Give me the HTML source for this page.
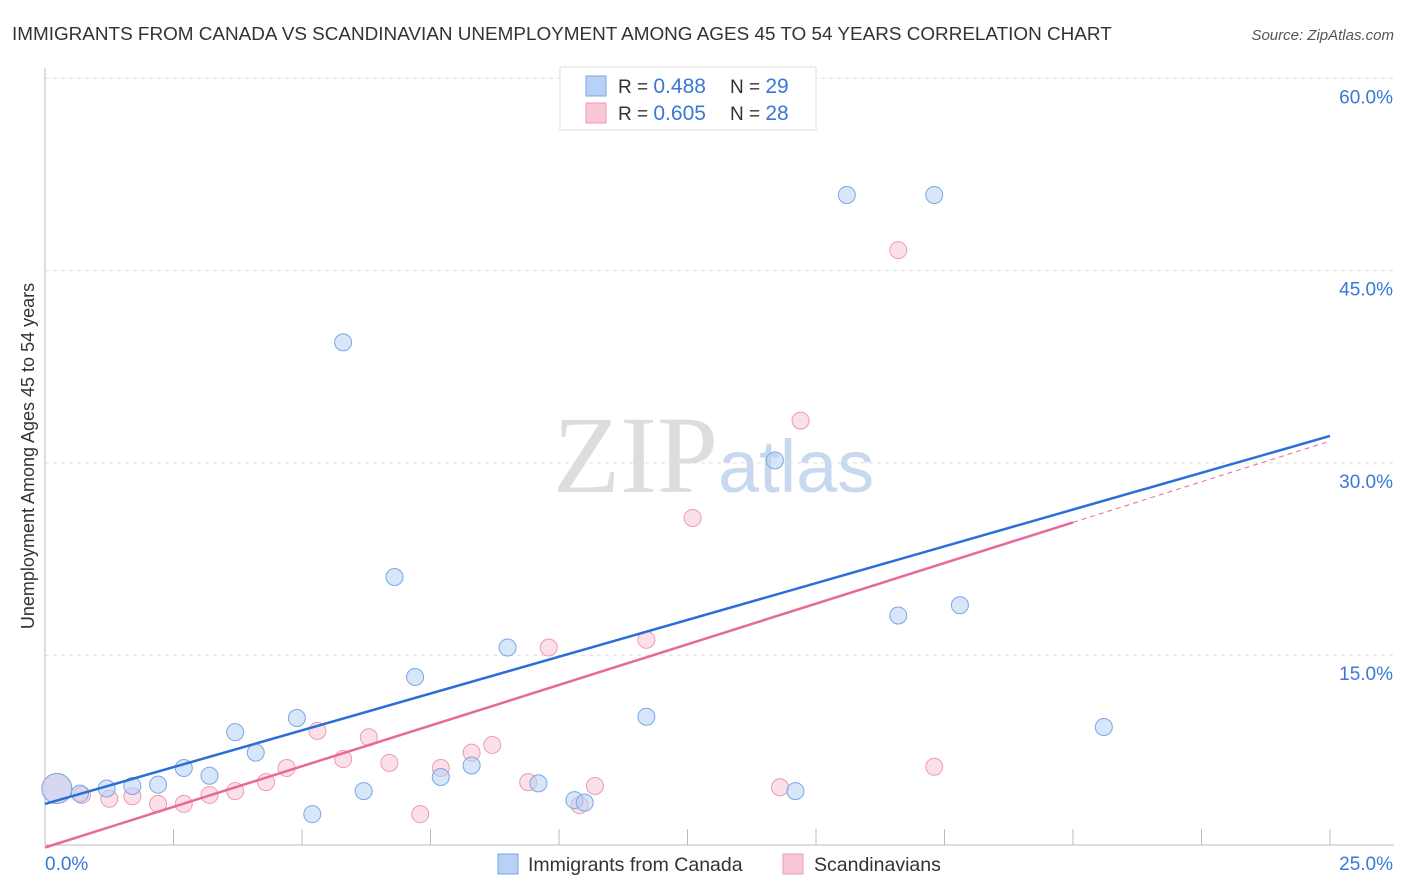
<!DOCTYPE html>
<html><head><meta charset="utf-8"><style>
body{margin:0;background:#fff;font-family:"Liberation Sans",sans-serif;}
svg{display:block}
</style></head><body>
<svg width="1406" height="892">
<text x="12" y="40" font-size="18.9" fill="#333">IMMIGRANTS FROM CANADA VS SCANDINAVIAN UNEMPLOYMENT AMONG AGES 45 TO 54 YEARS CORRELATION CHART</text>
<text x="1394" y="40" font-size="15" fill="#555" font-style="italic" text-anchor="end">Source: ZipAtlas.com</text>
<text transform="translate(34,456) rotate(-90)" font-size="18" fill="#333" text-anchor="middle">Unemployment Among Ages 45 to 54 years</text>
<text x="553" y="492" font-size="110" fill="#ddd" font-family="Liberation Serif,serif">ZIP</text>
<text x="718" y="492" font-size="74" fill="#c8d8ef">atlas</text>
<g id="grid"></g><g id="axes"></g><g id="marks"></g>
<g>
<rect x="560" y="67" width="256" height="63" fill="#fff" stroke="#ddd"/>
<rect x="586" y="76" width="20" height="20" fill="#b8d2f5" stroke="#7aa7e6"/>
<rect x="586" y="103" width="20" height="20" fill="#f9c6d6" stroke="#ee9ab4"/>
<text x="618" y="93" font-size="19" fill="#333">R = <tspan fill="#3a78d6" font-size="21">0.488</tspan><tspan x="730">N = </tspan><tspan fill="#3a78d6" font-size="21">29</tspan></text>
<text x="618" y="120" font-size="19" fill="#333">R = <tspan fill="#3a78d6" font-size="21">0.605</tspan><tspan x="730">N = </tspan><tspan fill="#3a78d6" font-size="21">28</tspan></text>
</g>
<g>
<rect x="498" y="854" width="20" height="20" fill="#b8d2f5" stroke="#7aa7e6"/>
<text x="528" y="871" font-size="19.5" fill="#333">Immigrants from Canada</text>
<rect x="783" y="854" width="20" height="20" fill="#f9c6d6" stroke="#ee9ab4"/>
<text x="814" y="871" font-size="19.5" fill="#333">Scandinavians</text>
</g>
</svg>
<script>
const yTicks=[15,30,45,60];
const yTickLabels=["15.0%","30.0%","45.0%","60.0%"];
const canadaX=[0.23,0.68,1.2,1.7,2.2,2.7,3.2,3.7,4.1,4.9,5.2,5.8,6.2,6.8,7.2,7.7,8.3,9.0,9.6,10.3,10.5,11.7,14.2,14.6,15.6,16.6,17.3,17.8,20.6];
const canadaY=[4.6,4.2,4.6,4.8,4.9,6.2,5.6,9.0,7.4,10.1,2.6,39.4,4.4,21.1,13.3,5.5,6.4,15.6,5.0,3.7,3.5,10.2,30.2,4.4,50.9,18.1,50.9,18.9,9.4];
const scandX=[0.23,0.72,1.25,1.7,2.2,2.7,3.2,3.7,4.3,4.7,5.3,5.8,6.3,6.7,7.3,7.7,8.3,8.7,9.4,9.8,10.4,10.7,11.7,12.6,14.3,14.7,16.6,17.3];
const scandY=[4.6,4.1,3.8,4.0,3.4,3.4,4.1,4.4,5.1,6.2,9.1,6.9,8.6,6.6,2.6,6.2,7.4,8.0,5.1,15.6,3.3,4.8,16.2,25.7,4.7,33.3,46.6,6.3];
const canadaTrend=[3.4,32.1];
const scandTrend=[0.0,31.7];
const NS="http://www.w3.org/2000/svg";
const X=v=>45+v/25*1285, Y=v=>847.5-v*12.82;
function mk(t,a,p){const e=document.createElementNS(NS,t);for(const k in a)e.setAttribute(k,a[k]);p.appendChild(e);return e;}
const grid=document.getElementById('grid'),axes=document.getElementById('axes'),marks=document.getElementById('marks');
yTicks.forEach((t,i)=>{
 const l=mk('line',{x1:45,x2:1394,y1:Y(t),y2:Y(t),stroke:'#ddd','stroke-dasharray':'4,4'},grid);
 
 
 const tx=mk('text',{x:1393,y:Y(t)+25,'font-size':19,fill:'#3a78d6','text-anchor':'end'},grid);
 tx.textContent=yTickLabels[i];
 
 
});
mk('line',{x1:45,x2:45,y1:68,y2:845,stroke:'#bbb'},axes);
mk('line',{x1:45,x2:1394,y1:845,y2:845,stroke:'#bbb'},axes);
for(let i=1;i<=10;i++){mk('line',{x1:X(i*2.5),x2:X(i*2.5),y1:829,y2:845,stroke:'#bbb'},axes);}
let t0=mk('text',{x:45,y:870,'font-size':19,fill:'#3a78d6'},axes);t0.textContent="0.0%";


let t1=mk('text',{x:1393,y:870,'font-size':19,fill:'#3a78d6','text-anchor':'end'},axes);t1.textContent="25.0%";


function pts(xs,ys,fill,stroke,name){xs.forEach((x,i)=>{
 const c=mk('circle',{cx:X(x),cy:Y(ys[i]),r:i==0?15:8.5,fill:fill,stroke:stroke,'stroke-width':1,'fill-opacity':0.55},marks);
 
 
});}
pts(scandX,scandY,'#f9c6d6','#ee9ab4','scandinavians-point');
pts(canadaX,canadaY,'#b8d2f5','#7aa7e6','canada-point');
const bl=mk('line',{x1:X(0),y1:Y(canadaTrend[0]),x2:X(25),y2:Y(canadaTrend[1]),stroke:'#2a6fd6','stroke-width':2.5},marks);


const ps=v=>scandTrend[0]+(scandTrend[1]-scandTrend[0])*v/25;
const pl=mk('line',{x1:X(0),y1:Y(ps(0)),x2:X(20),y2:Y(ps(20)),stroke:'#e8689a','stroke-width':2.5},marks);


const pd=mk('line',{x1:X(20),y1:Y(ps(20)),x2:X(25),y2:Y(ps(25)),stroke:'#e8689a','stroke-width':1,'stroke-dasharray':'5,4'},marks);


</script>
</body></html>
